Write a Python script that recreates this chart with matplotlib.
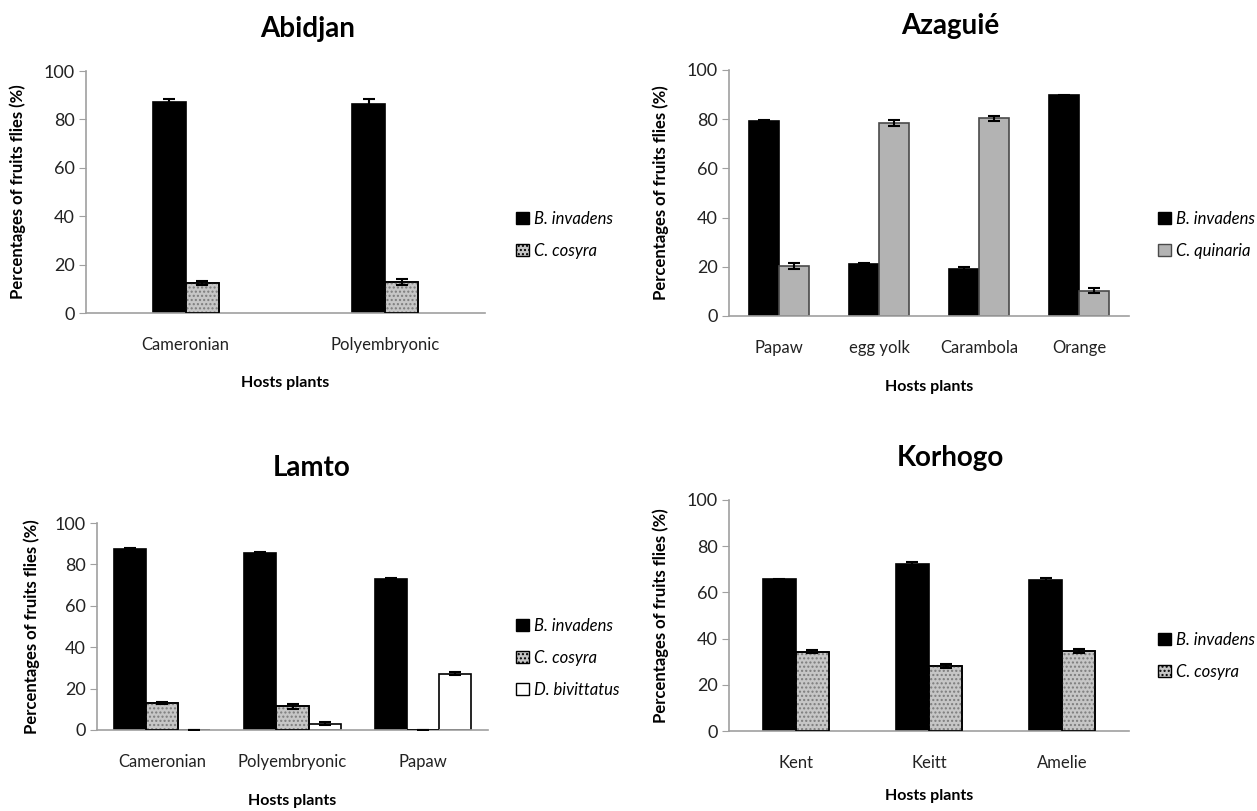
import matplotlib.pyplot as plt
from matplotlib.patches import Patch
import numpy as np

plt.rcParams['font.family'] = ['Lato', 'DejaVu Sans']
plt.rcParams['hatch.linewidth'] = 1.0

# Abidjan
abi_cats = ['Cameronian', 'Polyembryonic']
abi_binv = [87.3, 86.5]
abi_binv_err = [1.2, 1.8]
abi_ccos = [12.4, 12.8]
abi_ccos_err = [1.0, 1.2]

# Azaguie
aza_cats = ['Papaw', 'egg yolk', 'Carambola', 'Orange']
aza_binv = [79.3, 21.2, 19.3, 89.7]
aza_binv_err = [0.3, 0.5, 0.5, 0.3]
aza_cqui = [20.4, 78.5, 80.3, 10.3]
aza_cqui_err = [1.3, 1.3, 1.0, 1.0]

# Lamto
lam_cats = ['Cameronian', 'Polyembryonic', 'Papaw']
lam_binv = [87.3, 85.4, 73.0]
lam_binv_err = [0.4, 0.6, 0.4]
lam_ccos = [12.9, 11.5, 0.0]
lam_ccos_err = [0.5, 1.3, 0.0]
lam_dbiv = [0.2, 3.0, 27.2]
lam_dbiv_err = [0.0, 0.8, 0.8]

# Korhogo
kor_cats = ['Kent', 'Keitt', 'Amelie']
kor_binv = [65.6, 72.2, 65.3]
kor_binv_err = [0.4, 0.8, 0.8]
kor_ccos = [34.4, 28.1, 34.8]
kor_ccos_err = [0.7, 0.9, 0.9]

BLACK = dict(color='black', edgecolor='black')
TEXTURE = dict(color='#c6c6c6', edgecolor='black', hatch='....')
GREY = dict(color='#b3b3b3', edgecolor='#4a4a4a')
WHITE = dict(color='white', edgecolor='black')


def panel(ax, cats, series, width, title, title_xy, ylab_x, xlab_y, legend_xy):
    x = np.arange(len(cats))
    n = len(series)
    handles = []
    for i, (vals, errs, style, name) in enumerate(series):
        pos = x + (i - (n - 1) / 2) * width
        hatch = style.get('hatch')
        ax.bar(pos, vals, width, color=style['color'], edgecolor=style['edgecolor'],
               linewidth=1.2, zorder=2)
        if hatch:
            # mottled grey fill, then the black outline again on top
            ax.bar(pos, vals, width, color='none', edgecolor='#7c7c7c', hatch=hatch,
                   linewidth=0, zorder=3)
            ax.bar(pos, vals, width, color='none', edgecolor='black', linewidth=1.2, zorder=4)
        ax.errorbar(pos, vals, yerr=errs, fmt='none', ecolor='black', elinewidth=1.5,
                    capsize=4, capthick=1.5, zorder=5)
        handles.append(Patch(facecolor=style['color'], edgecolor=style['edgecolor'],
                             hatch=hatch, label=name))
    ax.set_xlim(-0.5, len(cats) - 0.5)
    ax.set_ylim(0, 100)
    ax.set_yticks([0, 20, 40, 60, 80, 100])
    ax.set_xticks(x)
    ax.set_xticklabels(cats)
    for s in ['top', 'right']:
        ax.spines[s].set_visible(False)
    for s in ['left', 'bottom']:
        ax.spines[s].set_color('#a0a0a0')
        ax.spines[s].set_linewidth(1.2)
    ax.tick_params(axis='x', length=0, pad=17, labelsize=12, colors='#222222')
    ax.tick_params(axis='y', length=5, color='#a0a0a0', labelsize=13, pad=3,
                   labelcolor='#222222')
    ax.set_ylabel('Percentages of fruits flies (%)', fontsize=12, fontweight='bold')
    ax.yaxis.set_label_coords(ylab_x, 0.5)
    ax.set_xlabel('Hosts plants', fontsize=11.5, fontweight='bold')
    ax.xaxis.set_label_coords(0.5, xlab_y)
    fig.text(title_xy[0] / 1257, 1 - title_xy[1] / 811, title, fontsize=20,
             fontweight='bold', ha='center', va='center')
    leg = ax.legend(handles=handles, loc='center left',
                    bbox_to_anchor=(legend_xy[0] / 1257, 1 - legend_xy[1] / 811),
                    bbox_transform=fig.transFigure, frameon=False, fontsize=12,
                    handlelength=0.75, handleheight=0.75, handletextpad=0.3,
                    labelspacing=0.95, borderpad=0)
    for t in leg.get_texts():
        t.set_fontstyle('italic')


fig = plt.figure(figsize=(12.57, 8.11), dpi=100)

ax1 = fig.add_axes([86 / 1257, 1 - 313 / 811, 399 / 1257, 242 / 811])
panel(ax1, abi_cats,
      [(abi_binv, abi_binv_err, BLACK, 'B. invadens'),
       (abi_ccos, abi_ccos_err, TEXTURE, 'C. cosyra')],
      0.165, 'Abidjan', (308, 29), -0.15, -0.26, (508, 235))

ax2 = fig.add_axes([729 / 1257, 1 - 316 / 811, 400 / 1257, 246 / 811])
panel(ax2, aza_cats,
      [(aza_binv, aza_binv_err, BLACK, 'B. invadens'),
       (aza_cqui, aza_cqui_err, GREY, 'C. quinaria')],
      0.30, 'Azaguié', (950, 26), -0.15, -0.26, (1150, 235))

ax3 = fig.add_axes([97 / 1257, 1 - 730 / 811, 391 / 1257, 207 / 811])
panel(ax3, lam_cats,
      [(lam_binv, lam_binv_err, BLACK, 'B. invadens'),
       (lam_ccos, lam_ccos_err, TEXTURE, 'C. cosyra'),
       (lam_dbiv, lam_dbiv_err, WHITE, 'D. bivittatus')],
      0.247, 'Lamto', (312, 468), -0.145, -0.31, (508, 658))

ax4 = fig.add_axes([729 / 1257, 1 - 731 / 811, 400 / 1257, 231 / 811])
panel(ax4, kor_cats,
      [(kor_binv, kor_binv_err, BLACK, 'B. invadens'),
       (kor_ccos, kor_ccos_err, TEXTURE, 'C. cosyra')],
      0.248, 'Korhogo', (950, 458), -0.15, -0.25, (1150, 656))

fig.savefig('out.png', dpi=100)
